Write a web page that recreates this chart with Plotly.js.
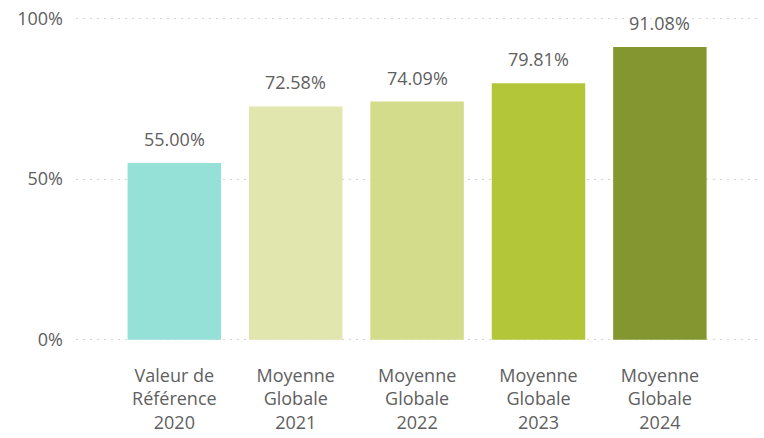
<!DOCTYPE html>
<html>
<head>
<meta charset="utf-8">
<script src="https://cdn.plot.ly/plotly-3.0.1.min.js"></script>
<style>html,body{margin:0;padding:0;background:#fff;}#chart{width:764px;height:438px;}</style>
</head>
<body>
<div id="chart"></div>
<script>
const categories = ["Valeur de<br>Référence<br>2020", "Moyenne<br>Globale<br>2021", "Moyenne<br>Globale<br>2022", "Moyenne<br>Globale<br>2023", "Moyenne<br>Globale<br>2024"];
const values = [55.00, 72.58, 74.09, 79.81, 91.08];
const barColors = ["#96E1D7", "#E0E6AE", "#D2DC8A", "#B3C63A", "#849630"];
const yTickVals = [0, 50, 100];
const yTickText = ["0%", "50%", "100%"];

const xIdx = categories.map((_, i) => i);
const font = "'Open Sans', 'Segoe UI', sans-serif";
const textColor = "#606060";

const trace = {
  type: "bar",
  x: xIdx,
  y: values,
  width: 0.77,
  marker: {color: barColors},
  hoverinfo: "none"
};

const annotations = values.map((v, i) => ({
  x: i, y: v, xref: "x", yref: "y",
  text: v.toFixed(2) + "%",
  showarrow: false,
  yanchor: "bottom",
  yshift: 10,
  font: {family: font, size: 18, color: textColor}
}));

const layout = {
  width: 764, height: 438,
  margin: {l: 76, r: 7, t: 14.78, b: 94.78},
  paper_bgcolor: "#fff", plot_bgcolor: "#fff",
  showlegend: false,
  font: {family: font, size: 18, color: textColor},
  xaxis: {
    range: [-0.81, 4.8],
    tickmode: "array",
    tickvals: xIdx,
    ticktext: categories,
    showgrid: false, zeroline: false, showline: false,
    ticks: "",
    ticklabelstandoff: 20,
    tickfont: {family: font, size: 18, color: textColor},
    fixedrange: true
  },
  yaxis: {
    range: [-1, 101],
    tickmode: "array",
    tickvals: yTickVals,
    ticktext: yTickText,
    showgrid: true,
    gridcolor: "#d6d6d6",
    griddash: "2px,5px",
    gridwidth: 1,
    zeroline: false, showline: false,
    ticks: "",
    ticklabelstandoff: 12,
    tickfont: {family: font, size: 18, color: textColor},
    fixedrange: true
  },
  annotations: annotations
};

Plotly.newPlot("chart", [trace], layout, {displayModeBar: false, staticPlot: true});
</script>
</body>
</html>
